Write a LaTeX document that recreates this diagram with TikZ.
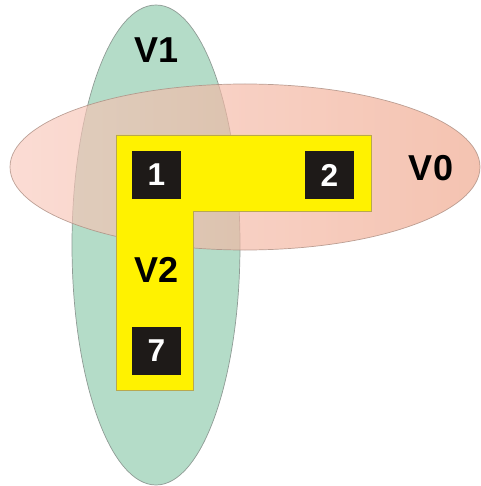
\documentclass[tikz,border=0pt]{standalone}
\usepackage{fontspec}
\setmainfont{Liberation Sans}
\definecolor{setgreen}{RGB}{180,220,200}
\definecolor{setpinkL}{RGB}{249,201,189}
\definecolor{setpinkR}{RGB}{238,163,135}
\definecolor{lyellow}{RGB}{255,242,0}
\definecolor{lborder}{RGB}{184,168,80}
\definecolor{cellblack}{RGB}{30,26,24}
\tikzset{
  setlabel/.style={font=\bfseries\fontsize{20.5}{20.5}\selectfont, text=black},
  cell/.style={fill=cellblack, minimum size=0.98cm, inner sep=0pt,
    text=white, font=\bfseries\fontsize{18}{18}\selectfont},
}
\begin{document}
\begin{tikzpicture}[x=0.02cm, y=-0.02cm]
\useasboundingbox (0,0) rectangle (480,486);

% the two sets V1 and V0
\draw[draw=gray!70!setgreen, fill=setgreen, line width=0.4pt] (156,245) ellipse (84 and 240);
\path[draw=gray!60!setpinkR, line width=0.4pt, left color=setpinkL, right color=setpinkR,
  fill opacity=0.65, draw opacity=0.8] (245,167) ellipse (235 and 83);

% the L-shaped set V2
\draw[fill=lyellow, draw=lborder, line width=0.5pt]
  (116,135) -- (371,135) -- (371,211) -- (193,211) -- (193,390) -- (116,390) -- cycle;

\node[cell] (n1) at (156.5,175) {1};
\node[cell] (n2) at (329.5,175) {2};
\node[cell] (n7) at (156.5,351) {7};

\node[setlabel] (v1) at (157,50) {V1};
\node[setlabel] (v0) at (431,168) {V0};
\node[setlabel] (v2) at (157,270) {V2};
\end{tikzpicture}
\end{document}
